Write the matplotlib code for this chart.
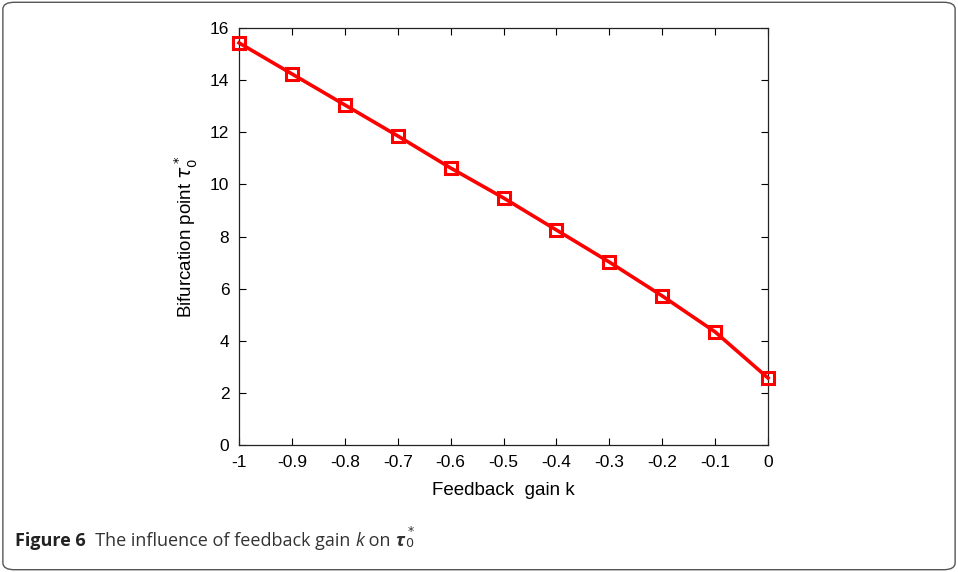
import matplotlib.pyplot as plt
from matplotlib.patches import FancyBboxPatch

# gain values and bifurcation points
k = [-1, -0.9, -0.8, -0.7, -0.6, -0.5, -0.4, -0.3, -0.2, -0.1, 0]
tau0 = [15.43, 14.24, 13.05, 11.86, 10.63, 9.48, 8.25, 7.02, 5.72, 4.34, 2.57]
xticks = [-1, -0.9, -0.8, -0.7, -0.6, -0.5, -0.4, -0.3, -0.2, -0.1, 0]
xlabels = ['-1', '-0.9', '-0.8', '-0.7', '-0.6', '-0.5', '-0.4', '-0.3', '-0.2', '-0.1', '0']
yticks = [0, 2, 4, 6, 8, 10, 12, 14, 16]

plt.rcParams['font.family'] = ['Liberation Sans', 'DejaVu Sans']
plt.rcParams['mathtext.fontset'] = 'dejavusans'

fig = plt.figure(figsize=(9.58, 5.72), dpi=100)

# outer frame of the figure panel
box = FancyBboxPatch((0.003, 0.004), 0.994, 0.992, boxstyle='round,pad=0,rounding_size=0.012',
                     transform=fig.transFigure, fill=False, ec='#555555', lw=1.0)
fig.patches.append(box)

ax = fig.add_axes([0.2495, 0.222, 0.5522, 0.729])
ax.plot(k, tau0, color='red', lw=2.6, marker='s', ms=8, mfc='none', mec='red', mew=2.2,
        clip_on=False, zorder=5)
ax.set_xlim(-1, 0)
ax.set_ylim(0, 16)
ax.set_xticks(xticks)
ax.set_xticklabels(xlabels)
ax.set_yticks(yticks)
ax.tick_params(direction='in', top=True, right=True, labelsize=12.5, length=5, width=0.8, pad=7)
for s in ax.spines.values():
    s.set_linewidth(0.9)
    s.set_color('#222222')
ax.set_xlabel('Feedback  gain k', fontsize=13.5, labelpad=9)
ax.set_ylabel(r'Bifurcation point $\tau_0^*$', fontsize=13.5, labelpad=8)

# caption
cap = dict(fontsize=13, family=['Open Sans', 'DejaVu Sans'], color='#333333')
t1 = fig.text(0.016, 0.045, 'Figure 6', fontweight='bold', **{**cap, 'color': '#222222'})
a2 = ax.annotate('  The influence of feedback gain ', xy=(1, 0), xycoords=t1, va='bottom',
                 annotation_clip=False, **cap)
a3 = ax.annotate('k', xy=(1, 0), xycoords=a2, va='bottom', style='italic',
                 annotation_clip=False, **cap)
a4 = ax.annotate(' on ', xy=(1, 0), xycoords=a3, va='bottom', annotation_clip=False, **cap)
a5 = ax.annotate('τ', xy=(1, 0), xycoords=a4, va='bottom', style='italic', fontweight='bold',
                 annotation_clip=False, **cap)
ax.annotate(r'$_0^*$', xy=(1, 0), xycoords=a5, xytext=(0.5, 0), textcoords='offset points',
            va='bottom', annotation_clip=False, **cap)

fig.savefig('out.png', dpi=100)
